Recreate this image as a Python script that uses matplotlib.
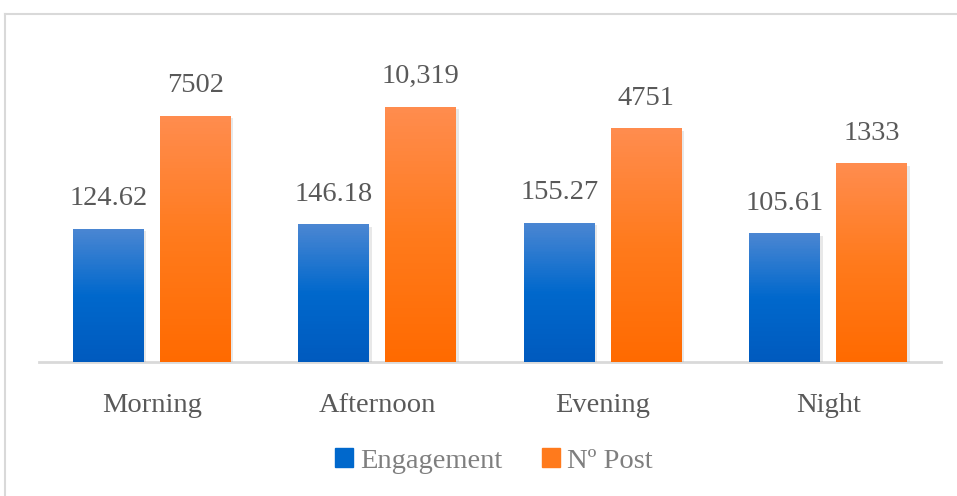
import numpy as np
import matplotlib
matplotlib.use("Agg")
import matplotlib.pyplot as plt
from matplotlib import patheffects as pe
from matplotlib.patches import Rectangle
from matplotlib.lines import Line2D
from matplotlib.colors import to_rgb

categories = ["Morning", "Afternoon", "Evening", "Night"]
engagement = [124.62, 146.18, 155.27, 105.61]
posts = [7502, 10319, 4751, 1333]
engagement_labels = ["124.62", "146.18", "155.27", "105.61"]
posts_labels = ["7502", "10,319", "4751", "1333"]
series_names = ["Engagement", "Nº Post"]

blue_stops = ["#005ABE", "#0068CC", "#4A86D2"]
orange_stops = ["#FF6A00", "#FF7A1C", "#FF8C4E"]

plt.rcParams['font.family'] = ['Liberation Serif', 'DejaVu Serif']
FS = 20.5

fig = plt.figure(figsize=(9.57, 4.96), dpi=100)
ax = fig.add_axes([39/957, 1-362/496, (941-39)/957, (362-44)/496])
ax.set_yscale('log')
ax.set_ylim(1, 1e5)
ax.set_xlim(-0.5, 3.5)

def interp(stops, f):
    cs = [np.array(to_rgb(c)) for c in stops]
    if f <= 0.5:
        return cs[0] + (cs[1]-cs[0]) * (f/0.5)
    return cs[1] + (cs[2]-cs[1]) * ((f-0.5)/0.5)

width = 0.315
off = 0.193
N = 80
x = np.arange(len(categories))

def draw_bars(xs, vals, stops):
    for xi, v in zip(xs, vals):
        ax.bar(xi, v - 1, bottom=1, width=width, color='white', zorder=2,
               path_effects=[pe.SimplePatchShadow(offset=(1.8, -1.8), shadow_rgbFace='#9A9A9A', alpha=0.22), pe.Normal()])
        t = np.log10(v)
        for k in range(N):
            b = 10 ** (t * k / N)
            tp = 10 ** (t * (k + 1) / N)
            ax.bar(xi, tp - b, bottom=b, width=width, color=interp(stops, k / (N - 1)),
                   linewidth=0, antialiased=False, zorder=3)

draw_bars(x - off, engagement, blue_stops)
draw_bars(x + off, posts, orange_stops)

for xi, v, lab in zip(x - off, engagement, engagement_labels):
    ax.annotate(lab, (xi, v), xytext=(0, 12.5), textcoords='offset points',
                ha='center', va='bottom', fontsize=FS, color='#595959')
for xi, v, lab in zip(x + off, posts, posts_labels):
    ax.annotate(lab, (xi, v), xytext=(0, 12.5), textcoords='offset points',
                ha='center', va='bottom', fontsize=FS, color='#595959')

for s in ['top', 'right', 'left']:
    ax.spines[s].set_visible(False)
ax.spines['bottom'].set_color('#D9D9D9')
ax.spines['bottom'].set_linewidth(2)
ax.spines['bottom'].set_zorder(1)
ax.set_yticks([])
ax.yaxis.set_minor_locator(matplotlib.ticker.NullLocator())
ax.set_xticks(x)
ax.set_xticklabels(categories, fontsize=FS, color='#595959')
ax.tick_params(axis='x', length=0, pad=22)

handles = [Rectangle((0, 0), 1, 1, color=blue_stops[1]),
           Rectangle((0, 0), 1, 1, color=orange_stops[1])]
fig.legend(handles, series_names, loc='center', bbox_to_anchor=(494/957, 1-461/496),
           ncol=2, frameon=False, fontsize=FS, labelcolor='#7F7F7F',
           handlelength=0.62, handleheight=0.62, handletextpad=0.25, columnspacing=1.4)

fig.add_artist(Line2D([5/957, 1.0], [1-14/496, 1-14/496], transform=fig.transFigure, color='#D9D9D9', lw=1.5))
fig.add_artist(Line2D([5/957, 5/957], [0, 1-14/496], transform=fig.transFigure, color='#D9D9D9', lw=1.5))

fig.savefig("out.png", dpi=100)
